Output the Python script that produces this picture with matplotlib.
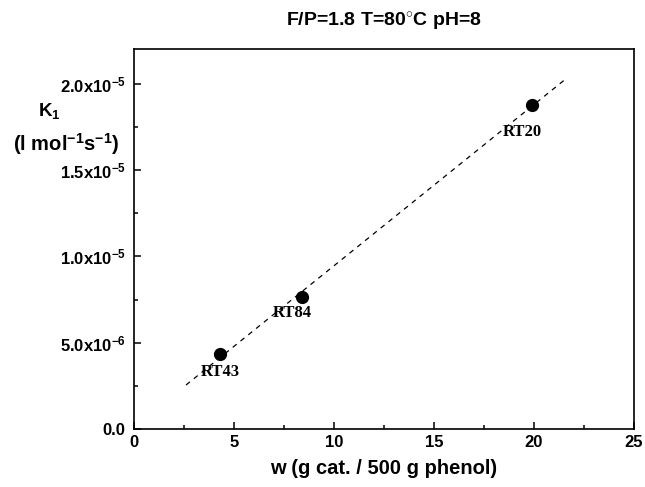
import matplotlib
matplotlib.use("Agg")
import matplotlib.pyplot as plt
import numpy as np
from matplotlib.ticker import MultipleLocator, FixedLocator, FixedFormatter

plt.rcParams['font.family'] = 'Liberation Sans'
plt.rcParams['font.weight'] = 'bold'
plt.rcParams['axes.titleweight'] = 'bold'
plt.rcParams['axes.labelweight'] = 'bold'
plt.rcParams['mathtext.fontset'] = 'custom'
plt.rcParams['mathtext.rm'] = 'Liberation Sans:bold'
plt.rcParams['mathtext.bf'] = 'Liberation Sans:bold'
plt.rcParams['mathtext.default'] = 'rm'

# data
samples = ["RT43", "RT84", "RT20"]
w = [4.3, 8.38, 19.9]
k1 = [4.37e-6, 7.63e-6, 1.878e-5]
fit_range = [2.6, 21.6]

ytick_vals = [0.0, 5e-6, 1e-5, 1.5e-5, 2e-5]
ytick_labels = ["0.0", r"5.0x10$^{-6}$", r"1.0x10$^{-5}$", r"1.5x10$^{-5}$", r"2.0x10$^{-5}$"]

fig = plt.figure(figsize=(6.45, 4.87), dpi=100)
ax = fig.add_axes([0.2078, 0.119, 0.775, 0.780])

coef = np.polyfit(w, k1, 1)
fx = np.array(fit_range)
ax.plot(fx, np.polyval(coef, fx), color='black', lw=0.9, ls=(0, (4, 4)))
ax.plot(w, k1, 'o', color='black', ms=8.5)

# label shifts so the names sit like the original
label_dx = [0.0, -0.45, -0.5]
label_dy = [-0.63e-6, -0.42e-6, -1.1e-6]
for name, xv, yv, dx, dy in zip(samples, w, k1, label_dx, label_dy):
    ax.text(xv + dx, yv + dy, name, ha='center', va='top', fontsize=12,
            family='Liberation Serif', weight='bold')

ax.set_xlim(0, 25)
ax.set_ylim(0, 2.2e-5)
ax.xaxis.set_major_locator(MultipleLocator(5))
ax.xaxis.set_minor_locator(MultipleLocator(2.5))
ax.yaxis.set_major_locator(FixedLocator(ytick_vals))
ax.yaxis.set_major_formatter(FixedFormatter(ytick_labels))
ax.yaxis.set_minor_locator(MultipleLocator(2.5e-6))

ax.tick_params(which='both', direction='in', width=1.1, labelsize=12)
ax.tick_params(which='major', length=5)
ax.tick_params(which='minor', length=3)
ax.tick_params(axis='y', pad=6)
ax.tick_params(axis='x', pad=4)
for s in ax.spines.values():
    s.set_linewidth(1.2)

ax.set_xlabel("w (g cat. / 500 g phenol)", fontsize=14.5, labelpad=7)
ax.set_title(r"F/P=1.8 T=80$^{\circ}$C pH=8", fontsize=14, pad=16)

fig.text(49 / 645, 1 - 111 / 487, r"K$_1$", fontsize=13.5, ha='center', va='center')
fig.text(66 / 645, 1 - 144 / 487, r"(l mol$^{-1}$s$^{-1}$)", fontsize=14.5, ha='center', va='center')

fig.savefig("out.png", dpi=100)
